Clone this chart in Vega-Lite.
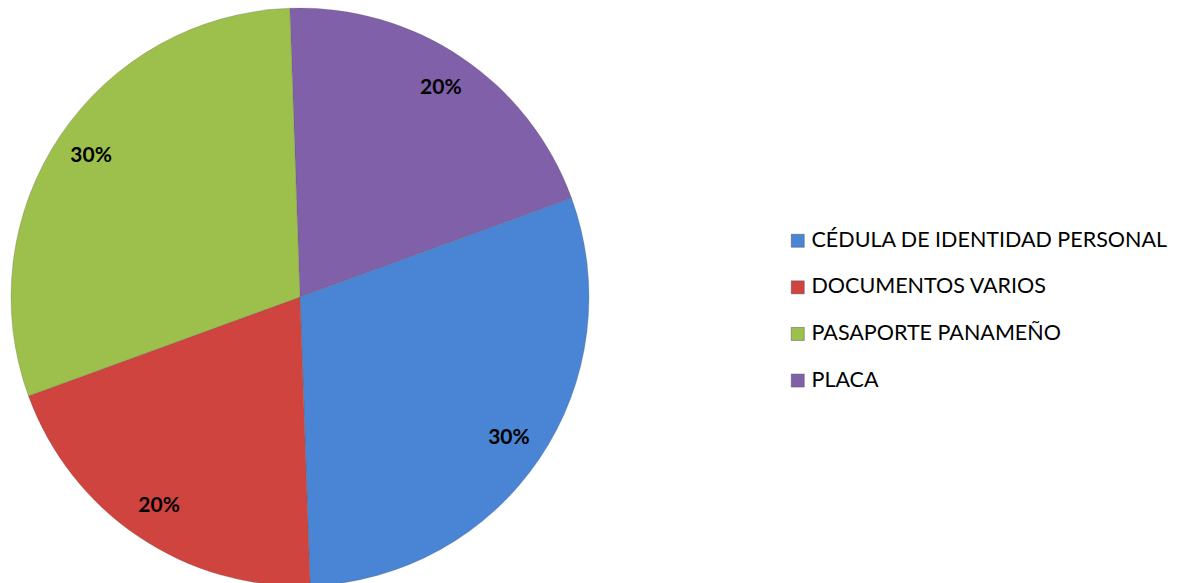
{
  "$schema": "https://vega.github.io/schema/vega-lite/v6.json",
  "width": 600,
  "height": 594,
  "padding": {"left": 0, "top": 0, "right": 586, "bottom": 0},
  "autosize": {"type": "none"},
  "background": "white",
  "data": {
    "values": [
      {"categoria": "PLACA", "valor": 20, "etiqueta": "20%", "orden": 1},
      {"categoria": "CÉDULA DE IDENTIDAD PERSONAL", "valor": 30, "etiqueta": "30%", "orden": 2},
      {"categoria": "DOCUMENTOS VARIOS", "valor": 20, "etiqueta": "20%", "orden": 3},
      {"categoria": "PASAPORTE PANAMEÑO", "valor": 30, "etiqueta": "30%", "orden": 4}
    ]
  },
  "encoding": {
    "theta": {"field": "valor", "type": "quantitative", "stack": true, "scale": {"range": [-0.035, 6.248]}},
    "order": {"field": "orden", "type": "quantitative"},
    "color": {
      "field": "categoria",
      "type": "nominal",
      "scale": {
        "domain": ["CÉDULA DE IDENTIDAD PERSONAL", "DOCUMENTOS VARIOS", "PASAPORTE PANAMEÑO", "PLACA"],
        "range": ["#4A85D5", "#D0443F", "#9CC04B", "#8160AA"]
      },
      "legend": {
        "title": null,
        "orient": "none",
        "legendX": 787,
        "legendY": 230,
        "symbolType": "square",
        "symbolSize": 169,
        "symbolStrokeWidth": 0.5,
        "symbolStrokeColor": "#555555",
        "labelFont": "Lato",
        "labelFontSize": 21.5,
        "labelColor": "#000000",
        "labelLimit": 500,
        "labelOffset": 3,
        "rowPadding": 23.6
      }
    }
  },
  "layer": [
    {
      "mark": {"type": "arc", "outerRadius": 289, "stroke": "#555555", "strokeOpacity": 0.25, "strokeWidth": 1}
    },
    {
      "mark": {"type": "text", "radius": 252, "font": "Lato", "fontSize": 21, "fontWeight": "bold", "color": "#000000"},
      "encoding": {"text": {"field": "etiqueta"}, "color": {"value": "#000000"}}
    }
  ]
}
